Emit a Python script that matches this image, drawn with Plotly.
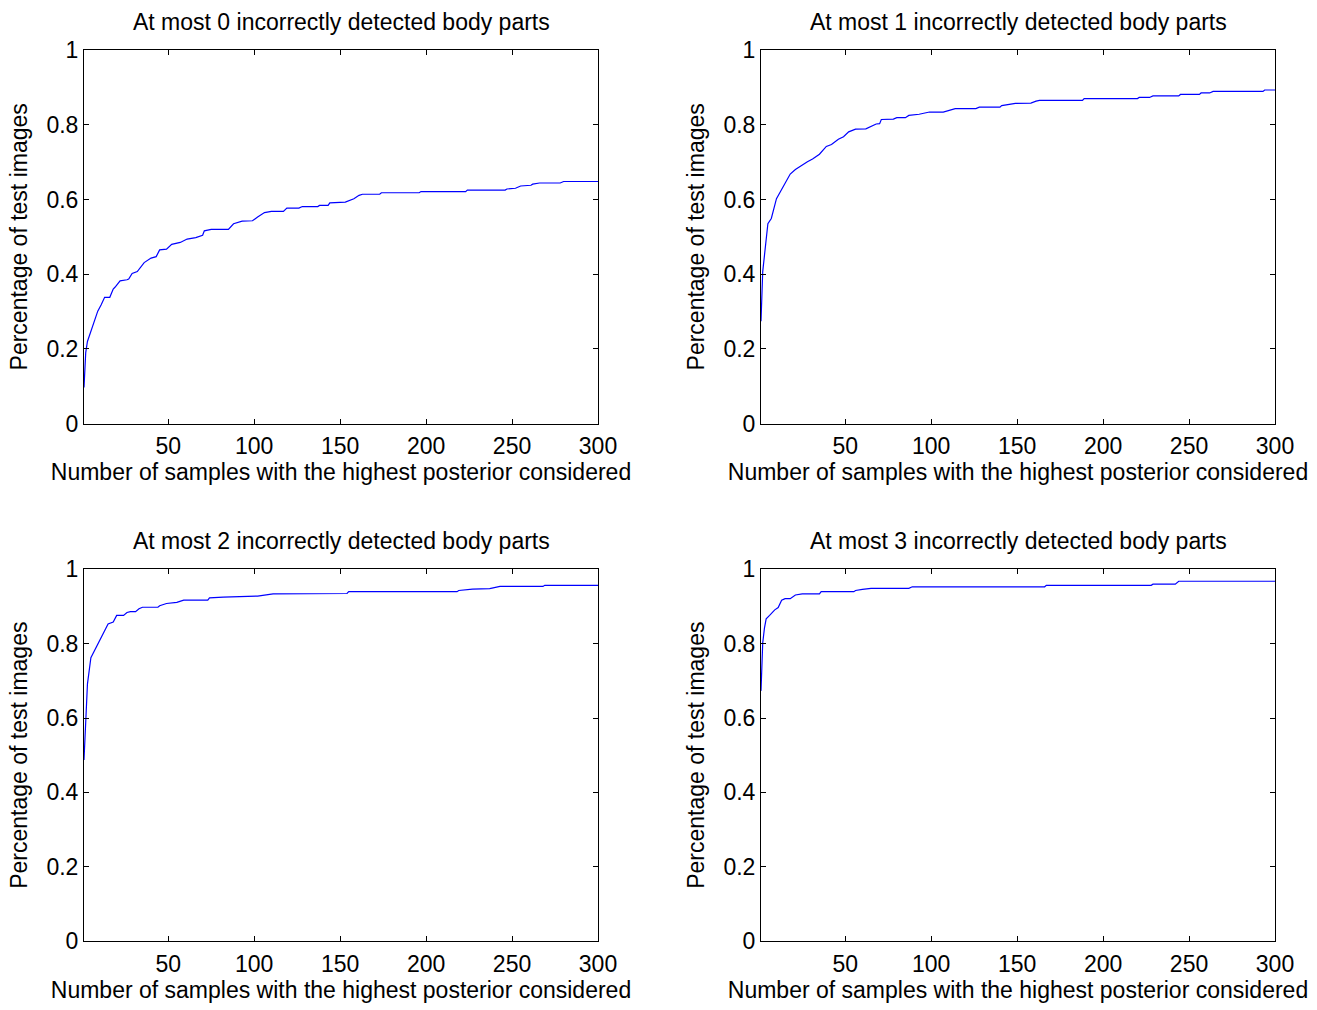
import plotly.graph_objects as go

# ---- data ----
titles = [
    "At most 0 incorrectly detected body parts",
    "At most 1 incorrectly detected body parts",
    "At most 2 incorrectly detected body parts",
    "At most 3 incorrectly detected body parts",
]
x_label = "Number of samples with the highest posterior considered"
y_label = "Percentage of test images"
x_ticks = [50, 100, 150, 200, 250, 300]
y_ticks = [0, 0.2, 0.4, 0.6, 0.8, 1]
y_tick_text = ["0", "0.2", "0.4", "0.6", "0.8", "1"]

x0 = [1, 2, 3, 5, 6, 7, 9, 11, 13, 16, 18, 19, 22, 26, 27, 29, 32, 36, 40, 43, 45, 49, 52, 57, 61, 66, 70, 71, 75, 85,
      88, 93, 99, 102, 106, 110, 117, 119, 126, 128, 137, 138, 143, 144, 153, 158, 161, 163, 173, 174, 196, 197, 223, 224,
      246, 247, 252, 255, 261, 262, 266, 278, 280, 300]
y0 = [0.097, 0.19, 0.22, 0.248, 0.262, 0.27, 0.301, 0.318, 0.338, 0.338, 0.36, 0.365, 0.382, 0.385, 0.387, 0.402, 0.407,
      0.431, 0.443, 0.447, 0.465, 0.467, 0.48, 0.485, 0.494, 0.498, 0.504, 0.516, 0.52, 0.52, 0.535, 0.542, 0.543, 0.553,
      0.565, 0.568, 0.568, 0.577, 0.577, 0.581, 0.581, 0.584, 0.584, 0.591, 0.593, 0.602, 0.611, 0.614, 0.614, 0.618,
      0.618, 0.621, 0.621, 0.625, 0.625, 0.628, 0.630, 0.636, 0.638, 0.641, 0.644, 0.644, 0.648, 0.648]

x1 = [1, 2, 5, 7, 10, 13, 15, 18, 21, 24, 28, 31, 35, 39, 42, 46, 49, 52, 56, 62, 65, 68, 70, 71, 78, 80, 85, 87, 93, 99,
      107, 109, 114, 126, 128, 140, 141, 149, 158, 161, 163, 188, 189, 220, 221, 227, 229, 244, 245, 256, 257, 262, 264,
      293, 294, 300]
y1 = [0.274, 0.407, 0.535, 0.549, 0.602, 0.628, 0.646, 0.668, 0.68, 0.69, 0.701, 0.708, 0.721, 0.742, 0.747, 0.761, 0.768,
      0.781, 0.788, 0.789, 0.795, 0.802, 0.803, 0.814, 0.815, 0.819, 0.819, 0.825, 0.828, 0.834, 0.834, 0.837, 0.843,
      0.843, 0.847, 0.847, 0.851, 0.857, 0.858, 0.863, 0.865, 0.865, 0.87, 0.87, 0.873, 0.873, 0.877, 0.877, 0.881, 0.881,
      0.885, 0.885, 0.889, 0.889, 0.893, 0.893]

x2 = [1, 2, 3, 5, 7, 9, 12, 15, 18, 20, 24, 26, 28, 31, 33, 35, 44, 45, 49, 55, 59, 73, 74, 82, 102, 111, 154, 155, 218,
      219, 227, 237, 243, 268, 269, 300]
y2 = [0.487, 0.602, 0.691, 0.762, 0.781, 0.797, 0.829, 0.853, 0.858, 0.876, 0.876, 0.884, 0.886, 0.886, 0.894, 0.898,
      0.898, 0.902, 0.908, 0.911, 0.917, 0.917, 0.923, 0.925, 0.928, 0.934, 0.935, 0.94, 0.94, 0.943, 0.947, 0.948, 0.954,
      0.954, 0.957, 0.957]

x3 = [1, 2, 3, 4, 6, 9, 11, 13, 15, 18, 21, 25, 35, 36, 55, 56, 60, 65, 87, 89, 166, 167, 228, 229, 242, 244, 300]
y3 = [0.673, 0.802, 0.842, 0.867, 0.876, 0.891, 0.897, 0.917, 0.921, 0.921, 0.931, 0.934, 0.934, 0.94, 0.94, 0.943,
      0.946, 0.949, 0.949, 0.953, 0.953, 0.957, 0.957, 0.96, 0.96, 0.968, 0.968]

series = [(x0, y0), (x1, y1), (x2, y2), (x3, y3)]

FONT = "Liberation Sans, Arial, Helvetica, sans-serif"
FS = 23
W, H = 1317, 1010
ML, MR, MT, MB = 84, 42, 50, 61
pw, ph = W - ML - MR, H - MT - MB
# pixel boxes of the four plot areas
boxes = [(84, 598, 50, 427), (761, 1275, 50, 427), (84, 598, 574, 949), (761, 1275, 574, 949)]

fig = go.Figure()
layout = dict(
    width=W, height=H, margin=dict(l=ML, r=MR, t=MT, b=MB), autosize=False,
    paper_bgcolor="white", plot_bgcolor="white", showlegend=False,
    font=dict(family=FONT, size=FS, color="black"),
    annotations=[],
)
for i, ((xs, ys), (x_a, x_b, y_a, y_b)) in enumerate(zip(series, boxes)):
    n = "" if i == 0 else str(i + 1)
    fig.add_trace(go.Scatter(x=xs, y=ys, mode="lines", line=dict(color="#0000ff", width=1.2),
                             xaxis="x" + n, yaxis="y" + n, hoverinfo="skip"))
    xd = [(x_a - ML) / pw, (x_b - ML) / pw]
    yd = [(H - MB - y_b) / ph, (H - MB - y_a) / ph]
    common = dict(showline=True, linecolor="black", linewidth=1, mirror="ticks", ticks="inside",
                  ticklen=5, tickcolor="black", showgrid=False, zeroline=False,
                  tickfont=dict(family=FONT, size=FS, color="black"))
    layout["xaxis" + n] = dict(domain=xd, range=[1, 300], tickvals=x_ticks, anchor="y" + n,
                               ticklabelstandoff=2,
                               title=dict(text=x_label, standoff=5, font=dict(size=FS)), **common)
    layout["yaxis" + n] = dict(domain=yd, range=[0, 1], tickvals=y_ticks, ticktext=y_tick_text,
                               anchor="x" + n, title=dict(text=y_label, standoff=12, font=dict(size=FS)), **common)
    layout["annotations"].append(dict(text=titles[i], x=(xd[0] + xd[1]) / 2, y=yd[1], xref="paper", yref="paper",
                                      xanchor="center", yanchor="bottom", yshift=13, showarrow=False,
                                      font=dict(family=FONT, size=FS, color="black")))

fig.update_layout(**layout)
page_fix = ("document.documentElement.style.margin='0';document.documentElement.style.padding='0';"
            "document.documentElement.style.overflow='hidden';"
            "document.body.style.margin='0';document.body.style.padding='0';document.body.style.overflow='hidden';")
fig.write_html("out.html", config={"displayModeBar": False, "responsive": False}, post_script=page_fix)
